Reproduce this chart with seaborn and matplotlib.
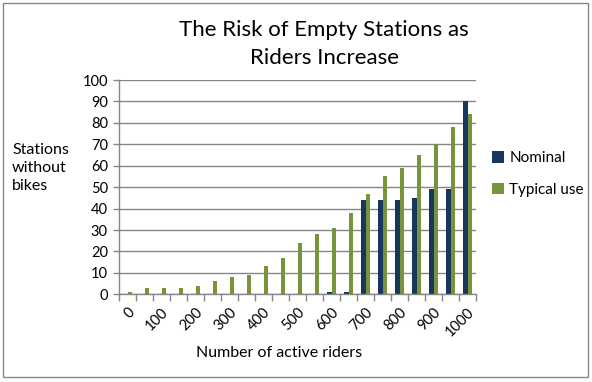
import numpy as np
import pandas as pd
import matplotlib
matplotlib.use("Agg")
import matplotlib.pyplot as plt
from matplotlib.patches import Rectangle
import seaborn as sns

# data
riders = [str(v) for v in range(0, 1001, 50)]
nominal = [0, 0, 0, 0, 0, 0, 0, 0, 0, 0, 0, 0, 1, 1, 44, 44, 44, 45, 49, 49, 90]
typical_use = [1, 3, 3, 3, 4, 6, 8, 9, 13, 17, 24, 28, 31, 38, 47, 55, 59, 65, 70, 78, 84]
series_names = ["Nominal", "Typical use"]
y_ticks = list(range(0, 101, 10))

df = pd.DataFrame({
    "riders": riders * 2,
    "value": nominal + typical_use,
    "series": [series_names[0]] * len(riders) + [series_names[1]] * len(riders),
})

sns.set_style("white")
plt.rcParams["font.family"] = ["Lato", "DejaVu Sans"]
plt.rcParams["text.color"] = "black"
plt.rcParams["xtick.color"] = "black"
plt.rcParams["ytick.color"] = "black"

grid_grey = "#868686"
colors = {"Nominal": "#17375E", "Typical use": "#77933C"}

fig = plt.figure(figsize=(5.92, 3.82), dpi=100)
ax = fig.add_axes([119 / 592, 1 - 294.3 / 382, 357 / 592, 214.3 / 382])

sns.barplot(data=df, x="riders", y="value", hue="series", order=riders,
            hue_order=series_names, palette=colors, width=0.56,
            saturation=1, linewidth=0, ax=ax, legend=True)

ax.set_ylim(0, 100)
ax.set_xlim(-0.5, len(riders) - 0.5)
ax.set_yticks(y_ticks)
ax.set_yticklabels([str(t) for t in y_ticks], fontsize=10.5)
ax.yaxis.grid(True, color=grid_grey, linewidth=1)
ax.set_axisbelow(True)

# labels on every other category, tick marks between categories
major = list(range(0, len(riders), 2))
ax.set_xticks(major)
ax.set_xticklabels([riders[i] for i in major], rotation=45, ha="right",
                   rotation_mode="anchor", fontsize=10.5)
ax.set_xticks(np.arange(-0.5, len(riders), 1), minor=True)
ax.tick_params(axis="x", which="major", length=0, pad=8)
ax.tick_params(axis="x", which="minor", length=5, color=grid_grey, width=1,
               bottom=True)
ax.tick_params(axis="y", length=4, color=grid_grey, width=1, left=True, pad=4)

for side in ["top", "right"]:
    ax.spines[side].set_visible(False)
for side in ["left", "bottom"]:
    ax.spines[side].set_color(grid_grey)
    ax.spines[side].set_linewidth(1)

ax.set_xlabel("")
ax.set_ylabel("")

handles, labels = ax.get_legend_handles_labels()
ax.get_legend().remove()
fig.legend(handles, labels, loc="center left",
           bbox_to_anchor=(484 / 592, 1 - 174 / 382), frameon=False,
           fontsize=11, handlelength=0.8, handleheight=0.8,
           handletextpad=0.35, labelspacing=1.15, borderpad=0)

fig.text(324 / 592, 1 - 44 / 382, "The Risk of Empty Stations as\nRiders Increase",
         ha="center", va="center", fontsize=16, linespacing=1.5)
fig.text(12 / 592, 1 - 168 / 382, "Stations\nwithout\nbikes", ha="left",
         va="center", fontsize=11.5, linespacing=1.35)
fig.text(279 / 592, 1 - 353 / 382, "Number of active riders", ha="center",
         va="center", fontsize=11.5)

fig.patches.append(Rectangle((3 / 592, 1 - 377 / 382), 585 / 592, 374 / 382,
                             transform=fig.transFigure, fill=False,
                             edgecolor=grid_grey, linewidth=1))

fig.savefig("out.png", dpi=100)
